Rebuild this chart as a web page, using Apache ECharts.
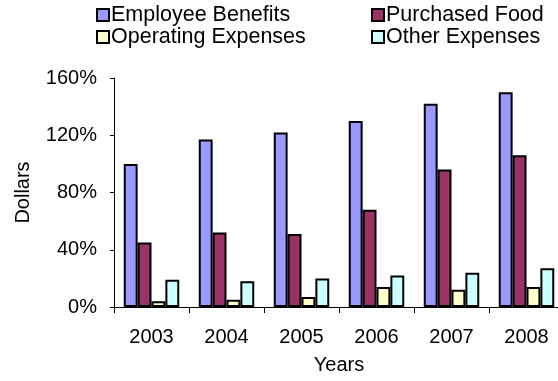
<!DOCTYPE html>
<html>
<head>
<meta charset="utf-8">
<script src="https://cdn.jsdelivr.net/npm/echarts@6/dist/echarts.min.js"></script>
<style>
  html, body { margin: 0; padding: 0; background: #fff; }
  #chart { width: 558px; height: 381px; }
</style>
</head>
<body>
<div id="chart"></div>
<script>
// Cost categories per year, expressed as percentages
const years = ['2003', '2004', '2005', '2006', '2007', '2008'];
const employeeBenefits = [100, 117, 122, 130, 142, 150];
const purchasedFood = [45, 52, 51, 68, 96, 106];
const operatingExpenses = [4, 5, 7, 14, 12, 14];
const otherExpenses = [19, 18, 20, 22, 24, 27];
const yTicks = [0, 40, 80, 120, 160];

const seriesNames = ['Employee Benefits', 'Purchased Food', 'Operating Expenses', 'Other Expenses'];
const seriesColors = ['#9999FF', '#993366', '#FFFFCC', '#CCFFFF'];
const seriesValues = [employeeBenefits, purchasedFood, operatingExpenses, otherExpenses];

const FONT = 'Liberation Sans, Arial, sans-serif';
const chart = echarts.init(document.getElementById('chart'));

// Legend laid out as a 2x2 block, one legend component per entry
const legendPos = [
  { left: 96, top: 4 },
  { left: 371, top: 4 },
  { left: 96, top: 26 },
  { left: 371, top: 26 }
];
const legends = seriesNames.map((name, i) => ({
  data: [name],
  left: legendPos[i].left,
  top: legendPos[i].top,
  padding: 0,
  icon: 'rect',
  itemWidth: 12,
  itemHeight: 12,
  itemStyle: { borderColor: '#000', borderWidth: 2 },
  textStyle: { fontFamily: FONT, fontSize: 21.5, color: '#000', padding: [0, 0, 0, -3] },
  selectedMode: false
}));

chart.setOption({
  animation: false,
  backgroundColor: '#fff',
  legend: legends,
  grid: {
    left: 114, top: 78, width: 450, height: 229,
    containLabel: false,
    outerBoundsMode: 'none'
  },
  xAxis: {
    type: 'category',
    data: years,
    name: 'Years',
    nameLocation: 'middle',
    nameGap: 48,
    nameTextStyle: { fontFamily: FONT, fontSize: 20, color: '#000' },
    axisLine: { lineStyle: { color: '#000', width: 1 } },
    axisTick: { show: true, length: 6, lineStyle: { color: '#000' } },
    axisLabel: { fontFamily: FONT, fontSize: 20, color: '#000', margin: 20 }
  },
  yAxis: {
    type: 'value',
    min: yTicks[0],
    max: yTicks[yTicks.length - 1],
    interval: yTicks[1] - yTicks[0],
    name: 'Dollars',
    nameLocation: 'middle',
    nameRotate: 90,
    nameGap: 81,
    nameTextStyle: { fontFamily: FONT, fontSize: 20, color: '#000' },
    splitLine: { show: false },
    axisLine: { show: true, lineStyle: { color: '#000', width: 1 } },
    axisTick: { show: true, length: 4, lineStyle: { color: '#000' } },
    axisLabel: { fontFamily: FONT, fontSize: 20, color: '#000', margin: 17, formatter: '{value}%' }
  },
  series: seriesNames.map((name, i) => ({
    name: name,
    type: 'bar',
    data: seriesValues[i],
    barGap: '0%',
    barCategoryGap: '26%',
    itemStyle: { color: seriesColors[i], borderColor: '#000', borderWidth: 2 }
  }))
});
</script>
</body>
</html>
